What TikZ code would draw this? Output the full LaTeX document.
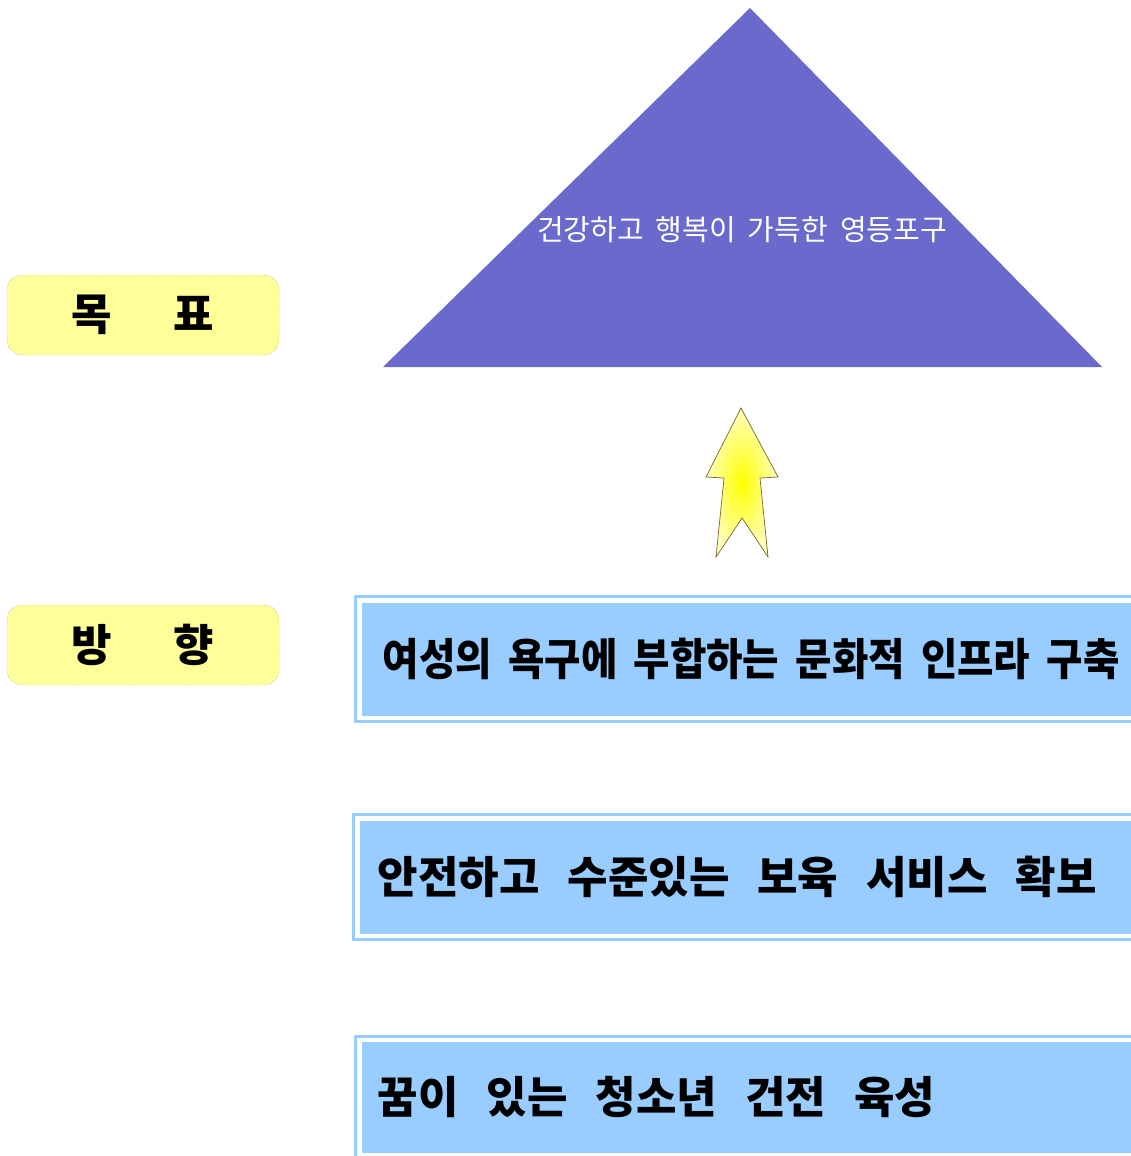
\documentclass[tikz,border=0pt]{standalone}
\usepackage{fontspec}
\newfontfamily\kr{Noto Sans CJK KR}
\usetikzlibrary{positioning}
\definecolor{goalblue}{RGB}{106,106,204}
\definecolor{tagyellow}{RGB}{255,255,153}
\definecolor{boxblue}{RGB}{153,204,255}
\definecolor{arrowline}{RGB}{120,100,50}
\newcommand\krspace[1]{\spaceskip=#1\relax}

\begin{document}
\begin{tikzpicture}[x=1pt,y=-1pt,
	tagbox/.style={draw=gray, densely dotted, fill=tagyellow, rounded corners=15pt,
		minimum width=272pt, minimum height=80pt, inner sep=0pt,
		font=\kr\bfseries\fontsize{44}{44}\selectfont},
	dirbox/.style={draw=boxblue, double=white, double distance=4.5pt, line width=3pt,
		fill=boxblue, anchor=north west, minimum width=800pt, inner sep=0pt, outer sep=0pt},
	dirtext/.style={anchor=west, inner sep=0pt, font=\kr\bfseries\fontsize{44}{44}\selectfont\krspace{28pt}}]
			\useasboundingbox (0,0) rectangle (1131,1156);
			\clip (0,0) rectangle (1131,1156);
			% left tags
			\node[tagbox] (tagGoal) at (143,315) {목\hspace{62pt}표};
			\node[tagbox] (tagDir) at (143,645) {방\hspace{62pt}향};
			% goal triangle
			\fill[goalblue] (750,8) -- (1102,367) -- (383,367) -- cycle;
			\node[text=white, font=\kr\fontsize{29}{29}\selectfont\krspace{12pt}] (goal) at (742,230) {건강하고 행복이 가득한 영등포구};
			% arrow
			\shade[draw=arrowline, line width=0.7pt, inner color=yellow, outer color=yellow!25!white]
				(741,408) -- (778,477) -- (760,478) -- (768,557) -- (742,518) -- (716,557) -- (724,478) -- (706,477) -- cycle;
			% directions
			\node[dirbox, minimum height=117.5pt] (dir1) at (359.5,600.5) {};
			\node[dirbox, minimum height=117.5pt] (dir2) at (357.5,818.5) {};
			\node[dirbox, minimum height=115pt] (dir3) at (359.5,1040) {};
			\node[dirtext, font=\kr\bfseries\fontsize{44}{44}\selectfont\krspace{18pt}, xscale=0.9] (txt1) at ([xshift=23pt]dir1.west) {여성의 욕구에 부합하는 문화적 인프라 구축};
			\node[dirtext] (txt2) at ([xshift=20pt]dir2.west) {안전하고 수준있는 보육 서비스 확보};
			\node[dirtext] (txt3) at ([xshift=18pt]dir3.west) {꿈이 있는 청소년 건전 육성};
\end{tikzpicture}
\end{document}
